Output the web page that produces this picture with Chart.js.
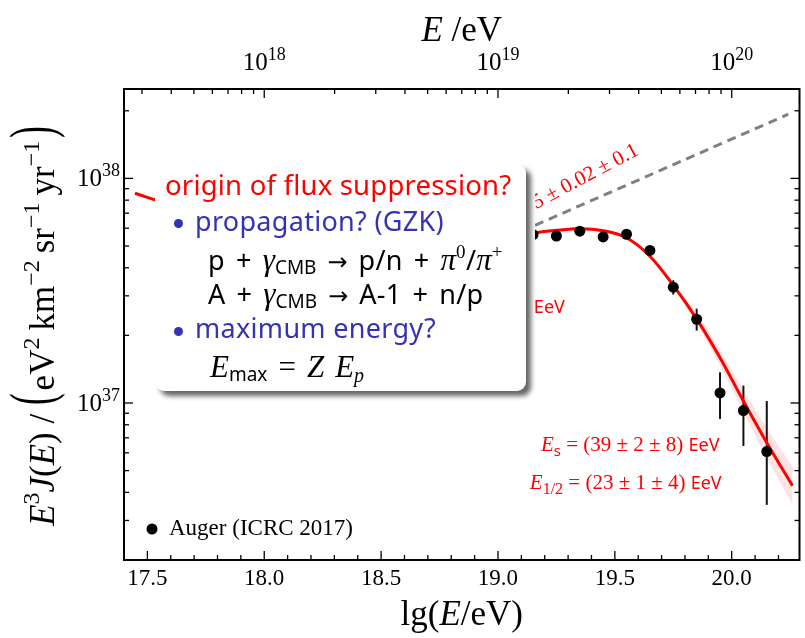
<!DOCTYPE html>
<html>
<head>
<meta charset="utf-8">
<title>Auger spectrum</title>
<script src="https://cdn.jsdelivr.net/npm/chart.js@4.4.1/dist/chart.umd.min.js"></script>
<style>
  html, body { margin:0; padding:0; background:#fff; }
  #wrap { position:relative; width:805px; height:638px; overflow:hidden; background:#fff; }
  #c { position:absolute; left:0; top:0; }
  #under { position:absolute; left:155px; top:164px; width:380px; height:236px; background:#fff; }
  #box { position:absolute; left:155px; top:164px; width:371px; height:227px; background:#fff; border-radius:9px; box-shadow:5px 5px 5px rgba(0,0,0,0.6); }
  .ln { position:absolute; white-space:nowrap; font-family:'Noto Sans', sans-serif; font-size:27px; line-height:27px; letter-spacing:0.3px; color:#000; }
  .red { color:#ff0000; font-size:27.5px; line-height:27.5px; letter-spacing:0.2px; }
  .blue { color:#3333b3; }
  .m { font-family:'Liberation Serif', serif; font-style:italic; font-size:31px; letter-spacing:0; }
  .r { font-family:'DejaVu Sans', sans-serif; font-size:24px; letter-spacing:0; }
  .sub { font-size:19px; position:relative; top:4px; letter-spacing:0; }
  .subm { font-family:'Liberation Serif', serif; font-style:italic; font-size:20px; position:relative; top:5px; }
  .sup { font-family:'Liberation Serif', serif; font-size:19px; position:relative; top:-12px; }
  .sp { display:inline-block; width:11px; }
  .bul { position:absolute; width:9px; height:9px; border-radius:50%; background:#3333b3; }
</style>
</head>
<body>
<div id="wrap">
  <canvas id="c" width="805" height="638"></canvas>
  <div id="under"></div>
  <div id="box"></div>
  <div class="ln red" style="left:165px;top:171px">origin of flux suppression?</div>
  <div class="bul" style="left:174px;top:219px"></div>
  <div class="ln blue" style="left:195px;top:207px">propagation? (GZK)</div>
  <div class="ln" style="left:208px;top:246px">p<span class="sp"></span>+<span class="sp"></span><span class="m">γ</span><span class="sub">CMB</span><span class="sp"></span><span class="r">→</span><span class="sp"></span>p/n<span class="sp"></span>+<span class="sp"></span><span class="m">π</span><span class="sup">0</span>/<span class="m">π</span><span class="sup">+</span></div>
  <div class="ln" style="left:208px;top:280px">A<span class="sp"></span>+<span class="sp"></span><span class="m">γ</span><span class="sub">CMB</span><span class="sp"></span><span class="r">→</span><span class="sp"></span>A-1<span class="sp"></span>+<span class="sp"></span>n/p</div>
  <div class="bul" style="left:174px;top:327px"></div>
  <div class="ln blue" style="left:195px;top:314px">maximum energy?</div>
  <div class="ln" style="left:210px;top:353px"><span class="m">E</span><span class="sub">max</span><span class="sp"></span><span class="m" style="font-style:normal">=</span><span class="sp"></span><span class="m">Z</span><span class="sp"></span><span class="m">E</span><span class="subm">p</span></div>
</div>
<script>
// ---------------- data ----------------
const lgE    = [19.15, 19.25, 19.35, 19.45, 19.55, 19.65, 19.75, 19.85, 19.95, 20.05, 20.15];
const flux   = [5.62e37, 5.54e37, 5.82e37, 5.49e37, 5.64e37, 4.78e37, 3.28e37, 2.36e37, 1.109e37, 9.25e36, 6.08e36];
const fluxLo = [5.50e37, 5.43e37, 5.71e37, 5.38e37, 5.52e37, 4.66e37, 3.04e37, 2.10e37, 8.49e36, 6.44e36, 3.52e36];
const fluxHi = [5.74e37, 5.65e37, 5.93e37, 5.60e37, 5.76e37, 4.90e37, 3.52e37, 2.63e37, 1.37e37, 1.195e37, 1.02e37];

const fitLgE  = [19.13, 19.15, 19.25, 19.35, 19.45, 19.55, 19.65, 19.75, 19.85, 19.95, 20.05, 20.15, 20.26];
const fitFlux = [5.61e37, 5.70e37, 5.87e37, 5.97e37, 5.85e37, 5.44e37, 4.50e37, 3.34e37, 2.37e37, 1.59e37, 1.02e37, 6.65e36, 4.28e36];
const fitLo   = [5.53e37, 5.61e37, 5.78e37, 5.88e37, 5.76e37, 5.36e37, 4.43e37, 3.24e37, 2.25e37, 1.464e37, 9.11e36, 5.70e36, 3.52e36];
const fitHi   = [5.69e37, 5.79e37, 5.96e37, 6.06e37, 5.94e37, 5.52e37, 4.57e37, 3.44e37, 2.50e37, 1.727e37, 1.142e37, 7.76e36, 5.20e36];

const fitLowLgE  = [17.447, 17.545];
const fitLowFlux = [8.59e37, 7.94e37];

const powLgE  = [19.10, 20.242];
const powFlux = [5.81e37, 1.93e38];

const xMajorTicks = [17.5, 18.0, 18.5, 19.0, 19.5, 20.0];
const xTickLabels = ['17.5', '18.0', '18.5', '19.0', '19.5', '20.0'];
const yMajorTicks = [1e37, 1e38];
const topMajorTicks = [1e18, 1e19, 1e20];

const seriesLabel = 'Auger (ICRC 2017)';
const gammaText = ['γ', '2', ' = 2.5 ± 0.02 ± 0.1'];
const eaText = ['E', 'a', ' = (5.08 ± 0.06 ± 0.8) ', 'EeV'];
const esText = ['E', 's', ' = (39 ± 2 ± 8) ', 'EeV'];
const ehText = ['E', '1/2', ' = (23 ± 1 ± 4) ', 'EeV'];

// ---------------- configuration ----------------
const X_MIN = 17.4, X_MAX = 20.29;
const Y_MIN = 2e36, Y_MAX = 2.5e38;
const SERIF = "'Liberation Serif', 'Times New Roman', serif";
const SANS = "'Noto Sans', 'DejaVu Sans', sans-serif";
const RED = '#ff0000';

// annotation anchors in data coordinates
const anchors = {
  gamma: { x: 19.607, y: 1.283e38, angle: -28 },
  ea:    { x: 19.286, y: 2.51e37 },
  es:    { x: 19.948, y: 6.12e36 },
  eh:    { x: 19.957, y: 4.14e36 }
};

function minorLinear(lo, hi, step) {
  const out = [];
  const n0 = Math.ceil(lo / step - 1e-9), n1 = Math.floor(hi / step + 1e-9);
  for (let n = n0; n <= n1; n++) out.push(+(n * step).toFixed(6));
  return out;
}
function logTicks(lo, hi) {
  const out = [];
  for (let e = Math.floor(Math.log10(lo)); e <= Math.ceil(Math.log10(hi)); e++) {
    for (let m = 1; m <= 9; m++) {
      const v = m * Math.pow(10, e);
      if (v >= lo * 0.9999 && v <= hi * 1.0001) out.push(v);
    }
  }
  return out;
}
const isPow10 = v => Math.abs(Math.log10(v) - Math.round(Math.log10(v))) < 1e-6;
const isMajorX = v => xMajorTicks.some(t => Math.abs(t - v) < 1e-6);

function runWidth(ctx, r) { ctx.font = r.f; return ctx.measureText(r.t).width + (r.pad || 0); }
function drawRich(ctx, runs, x, y, align, color) {
  let w = 0;
  for (const r of runs) w += runWidth(ctx, r);
  let cx = align === 'center' ? x - w / 2 : (align === 'right' ? x - w : x);
  ctx.textBaseline = 'alphabetic';
  ctx.textAlign = 'left';
  for (const r of runs) {
    ctx.font = r.f;
    ctx.fillStyle = r.c || color;
    if (r.sy) {
      // vertically stretched glyph (tall delimiters)
      ctx.save();
      ctx.translate(cx, y - r.mid);
      ctx.scale(1, r.sy);
      ctx.fillText(r.t, 0, r.gmid);
      ctx.restore();
    } else {
      ctx.fillText(r.t, cx, y + (r.dy || 0));
    }
    cx += runWidth(ctx, r);
  }
}
function supLabel(exp, size) {
  return [
    { t: '10', f: `${size}px ${SERIF}` },
    { t: String(exp), f: `${Math.round(size * 0.72)}px ${SERIF}`, dy: -size * 0.42 }
  ];
}
function annRuns(parts, size, subSerif) {
  return [
    { t: parts[0], f: `italic ${size}px ${SERIF}` },
    { t: parts[1], f: subSerif ? `${Math.round(size * 0.75)}px ${SERIF}` : `${Math.round(size * 0.72)}px ${SANS}`, dy: size * 0.24 },
    { t: parts[2], f: `${size}px ${SERIF}` },
    { t: parts[3], f: `${Math.round(size * 0.86)}px ${SANS}` }
  ];
}

const decoPlugin = {
  id: 'deco',
  beforeDatasetsDraw(chart) {
    const { ctx, scales: { x, y } } = chart;
    ctx.save();
    ctx.strokeStyle = '#111';
    ctx.lineWidth = 2;
    lgE.forEach((e, i) => {
      const px = x.getPixelForValue(e);
      ctx.beginPath();
      ctx.moveTo(px, y.getPixelForValue(fluxLo[i]));
      ctx.lineTo(px, y.getPixelForValue(fluxHi[i]));
      ctx.stroke();
    });
    ctx.restore();
  },
  afterDraw(chart) {
    const { ctx, chartArea: a, scales: { x, y, x2 } } = chart;
    ctx.save();
    // annotations (partly hidden by the overlay box, like the reference)
    {
      const g = anchors.gamma;
      ctx.save();
      ctx.translate(x.getPixelForValue(g.x), y.getPixelForValue(g.y));
      ctx.rotate(g.angle * Math.PI / 180);
      drawRich(ctx, [
        { t: gammaText[0], f: `italic 21px ${SERIF}` },
        { t: gammaText[1], f: `15px ${SERIF}`, dy: 5 },
        { t: gammaText[2], f: `21px ${SERIF}` }
      ], 0, 0, 'right', RED);
      ctx.restore();
      drawRich(ctx, annRuns(eaText, 21), x.getPixelForValue(anchors.ea.x), y.getPixelForValue(anchors.ea.y), 'right', RED);
      drawRich(ctx, annRuns(esText, 21), x.getPixelForValue(anchors.es.x), y.getPixelForValue(anchors.es.y), 'right', RED);
      drawRich(ctx, annRuns(ehText, 21, true), x.getPixelForValue(anchors.eh.x), y.getPixelForValue(anchors.eh.y), 'right', RED);
    }
    // frame
    ctx.strokeStyle = '#000';
    ctx.lineWidth = 2;
    ctx.strokeRect(a.left, a.top, a.right - a.left, a.bottom - a.top);
    // inward ticks
    ctx.lineWidth = 1.3;
    const seg = (x0, y0, x1, y1) => { ctx.beginPath(); ctx.moveTo(x0, y0); ctx.lineTo(x1, y1); ctx.stroke(); };
    x.ticks.forEach(t => {
      const px = x.getPixelForValue(t.value);
      seg(px, a.bottom, px, a.bottom - (isMajorX(t.value) ? 9 : 5));
    });
    x2.ticks.forEach(t => {
      const px = x2.getPixelForValue(t.value);
      seg(px, a.top, px, a.top + (isPow10(t.value) ? 9 : 5));
    });
    y.ticks.forEach(t => {
      const py = y.getPixelForValue(t.value);
      const L = isPow10(t.value) ? 9 : 5;
      seg(a.left, py, a.left + L, py);
      seg(a.right, py, a.right - L, py);
    });
    // y tick labels 10^n
    y.ticks.forEach(t => {
      if (!yMajorTicks.some(v => Math.abs(v / t.value - 1) < 1e-6)) return;
      const py = y.getPixelForValue(t.value);
      drawRich(ctx, supLabel(Math.round(Math.log10(t.value)), 25), a.left - 4, py + 8, 'right', '#000');
    });
    // top tick labels 10^n
    x2.ticks.forEach(t => {
      if (!topMajorTicks.some(v => Math.abs(v / t.value - 1) < 1e-6)) return;
      const px = x2.getPixelForValue(t.value);
      drawRich(ctx, supLabel(Math.round(Math.log10(t.value)), 25), px, 70, 'center', '#000');
    });
    // axis titles
    const T = 35;
    const cx = (a.left + a.right) / 2;
    drawRich(ctx, [
      { t: 'E', f: `italic ${T}px ${SERIF}` },
      { t: ' /eV', f: `${T}px ${SERIF}` }
    ], cx, 41, 'center', '#000');
    drawRich(ctx, [
      { t: 'lg(', f: `${T}px ${SERIF}` },
      { t: 'E', f: `italic ${T}px ${SERIF}` },
      { t: '/eV)', f: `${T}px ${SERIF}` }
    ], cx, 625, 'center', '#000');
    ctx.save();
    ctx.translate(54, (a.top + a.bottom) / 2);
    ctx.rotate(-Math.PI / 2);
    const S = Math.round(T * 0.68), up = -T * 0.42;
    const bigP = t => ({ t, f: `${T}px ${SERIF}`, sy: 1.75, mid: 16, gmid: T * 0.235, pad: 3 });
    drawRich(ctx, [
      { t: 'E', f: `italic ${T}px ${SERIF}` },
      { t: '3', f: `${S}px ${SERIF}`, dy: up },
      { t: 'J', f: `italic ${T}px ${SERIF}` },
      { t: '(', f: `${T}px ${SERIF}` },
      { t: 'E', f: `italic ${T}px ${SERIF}` },
      { t: ') / ', f: `${T}px ${SERIF}` },
      bigP('('),
      { t: 'eV', f: `${T}px ${SERIF}` },
      { t: '2', f: `${S}px ${SERIF}`, dy: up },
      { t: '\u2009km', f: `${T}px ${SERIF}` },
      { t: '\u22122', f: `${S}px ${SERIF}`, dy: up },
      { t: '\u2009sr', f: `${T}px ${SERIF}` },
      { t: '\u22121', f: `${S}px ${SERIF}`, dy: up },
      { t: '\u2009yr', f: `${T}px ${SERIF}` },
      { t: '\u22121', f: `${S}px ${SERIF}`, dy: up, pad: 3 },
      bigP(')')
    ], 0, 0, 'center', '#000');
    ctx.restore();
    // legend
    const lx = a.left + 28, ly = a.bottom - 31;
    ctx.fillStyle = '#000';
    ctx.beginPath(); ctx.arc(lx, ly, 5.5, 0, Math.PI * 2); ctx.fill();
    ctx.font = `23px ${SERIF}`;
    ctx.textBaseline = 'middle';
    ctx.textAlign = 'left';
    ctx.fillText(seriesLabel, lx + 17, ly);
    ctx.restore();
  }
};

const pts = (xs, ys) => xs.map((v, i) => ({ x: v, y: ys[i] }));

new Chart(document.getElementById('c'), {
  type: 'line',
  data: {
    datasets: [
      { label: seriesLabel, data: pts(lgE, flux), showLine: false, pointRadius: 5.5, pointHoverRadius: 5.5,
        pointBackgroundColor: '#000', pointBorderWidth: 0, order: 0 },
      { label: 'fit', data: pts(fitLgE, fitFlux), borderColor: RED, borderWidth: 3, pointRadius: 0, tension: 0.35, fill: false, order: 1 },
      { label: 'fit (low)', data: pts(fitLowLgE, fitLowFlux), borderColor: RED, borderWidth: 3, pointRadius: 0, fill: false, order: 1 },
      { label: 'power law', data: pts(powLgE, powFlux), borderColor: '#808080', borderWidth: 3, borderDash: [9, 6], pointRadius: 0, fill: false, order: 2 },
      { label: 'band low', data: pts(fitLgE, fitLo), borderWidth: 0, pointRadius: 0, tension: 0.35, fill: false, order: 3 },
      { label: 'band high', data: pts(fitLgE, fitHi), borderWidth: 0, pointRadius: 0, tension: 0.35,
        fill: '-1', backgroundColor: 'rgba(255,0,0,0.11)', order: 3 }
    ]
  },
  options: {
    responsive: false,
    animation: false,
    devicePixelRatio: 1,
    layout: { padding: { left: 0, right: 4, top: 0, bottom: 0 } },
    plugins: { legend: { display: false }, tooltip: { enabled: false } },
    scales: {
      x: {
        type: 'linear', position: 'bottom', min: X_MIN, max: X_MAX,
        afterBuildTicks: s => { s.ticks = minorLinear(17.5, 20.2, 0.1).map(v => ({ value: v })); },
        ticks: {
          autoSkip: false, maxRotation: 0, minRotation: 0, padding: 5, color: '#000',
          font: { family: SERIF, size: 23 },
          callback: v => { const i = xMajorTicks.findIndex(t => Math.abs(t - v) < 1e-6); return i >= 0 ? xTickLabels[i] : ''; }
        },
        grid: { display: false, drawTicks: false },
        border: { display: false },
        afterFit: s => { s.height = 78; }
      },
      x2: {
        type: 'logarithmic', position: 'top', min: Math.pow(10, X_MIN), max: Math.pow(10, X_MAX),
        afterBuildTicks: s => { s.ticks = logTicks(s.min, s.max).map(v => ({ value: v })); },
        ticks: { display: false },
        grid: { display: false, drawTicks: false },
        border: { display: false },
        afterFit: s => { s.height = 89; }
      },
      y: {
        type: 'logarithmic', position: 'left', min: Y_MIN, max: Y_MAX,
        afterBuildTicks: s => { s.ticks = logTicks(s.min, s.max).map(v => ({ value: v })); },
        ticks: { display: false },
        grid: { display: false, drawTicks: false },
        border: { display: false },
        afterFit: s => { s.width = 124; }
      }
    }
  },
  plugins: [decoPlugin]
});
</script>
</body>
</html>
